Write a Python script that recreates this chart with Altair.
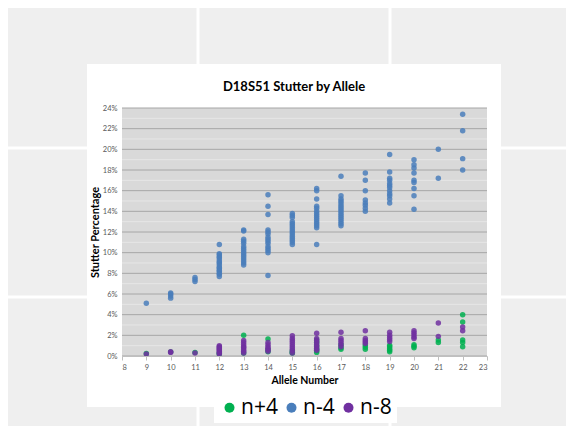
import altair as alt
import pandas as pd

# ---- data (percent values) ----
series_names = ["n+4", "n-4", "n-8"]
series_colors = ["#00b050", "#4a7ebb", "#7030a0"]

n_plus4 = {
    9: [0.25], 10: [0.4], 11: [0.35], 12: [0.3, 0.2], 13: [2.0, 0.3],
    14: [1.65, 0.4, 0.6], 15: [0.35, 0.5, 0.3],
    16: [1.55, 1.3, 1.0, 0.7, 0.5, 0.35], 17: [0.65, 0.8, 1.1],
    18: [1.05, 0.85, 0.65], 19: [1.05, 0.9, 0.7, 0.55, 0.4],
    20: [1.1, 0.95, 0.8], 21: [1.55, 1.3], 22: [4.0, 3.3, 1.55, 1.3, 0.9],
}
n_minus4 = {
    9: [5.1], 10: [5.6, 5.8, 6.0, 6.1], 11: [7.2, 7.4, 7.6],
    12: [10.8, 9.9, 9.8, 9.6, 9.5, 9.3, 9.1, 9.0, 8.8, 8.6, 8.5, 8.3, 8.2, 8.0, 7.9, 7.7],
    13: [12.2, 12.1, 11.3, 11.1, 10.9, 10.6, 10.4, 10.2, 10.0, 9.8, 9.6, 9.4, 9.2, 9.0, 8.8],
    14: [15.6, 14.5, 13.7, 12.2, 12.0, 11.8, 11.5, 11.3, 11.1, 10.9, 10.6, 10.4, 10.2, 10.0, 7.8],
    15: [13.8, 13.6, 13.4, 13.0, 12.8, 12.6, 12.4, 12.2, 12.0, 11.8, 11.6, 11.4, 11.2, 11.0, 10.8],
    16: [16.2, 16.0, 15.2, 14.5, 14.3, 14.0, 13.8, 13.6, 13.4, 13.2, 13.0, 12.8, 12.6, 12.4, 10.8],
    17: [17.4, 15.5, 15.2, 15.0, 14.8, 14.6, 14.4, 14.2, 14.0, 13.8, 13.6, 13.4, 13.2, 13.0, 12.8, 12.6],
    18: [17.7, 17.0, 16.0, 15.1, 14.8, 14.6, 14.3, 14.0],
    19: [19.5, 17.8, 17.2, 17.0, 16.7, 16.5, 16.3, 16.0, 15.7, 15.5, 15.2, 14.8],
    20: [19.0, 18.5, 18.2, 17.7, 17.0, 16.8, 16.2, 15.5, 14.2],
    21: [20.0, 17.2],
    22: [23.4, 21.8, 19.1, 18.0],
}
n_minus8 = {
    9: [0.2], 10: [0.42, 0.35], 11: [0.3],
    12: [1.0, 0.9, 0.8, 0.7, 0.6, 0.5, 0.4, 0.3, 0.2],
    13: [1.5, 1.3, 1.1, 0.9, 0.8, 0.6, 0.45, 0.3],
    14: [1.3, 1.1, 0.9, 0.75, 0.6, 0.45],
    15: [1.95, 1.7, 1.5, 1.3, 1.1, 0.9, 0.7, 0.5, 0.3],
    16: [2.2, 1.7, 1.5, 1.3, 1.1, 0.9, 0.7, 0.55],
    17: [2.3, 1.7, 1.5, 1.3, 1.1, 0.9],
    18: [2.45, 1.7, 1.5, 1.35, 1.2],
    19: [2.3, 2.0, 1.8, 1.6, 1.4],
    20: [2.45, 2.25, 2.05, 1.85, 1.7],
    21: [3.2, 1.9],
    22: [2.8, 2.45],
}
x_ticks = list(range(8, 24))
y_ticks = [0, 0.02, 0.04, 0.06, 0.08, 0.10, 0.12, 0.14, 0.16, 0.18, 0.20, 0.22, 0.24]
y_minor = [0.01, 0.03, 0.05, 0.07, 0.09, 0.11, 0.13, 0.15, 0.17, 0.19, 0.21, 0.23]
chart_title = "D18S51 Stutter by Allele"

rows = []
for name, d in zip(series_names, [n_plus4, n_minus4, n_minus8]):
    for allele, vals in d.items():
        for v in vals:
            rows.append({"allele": allele, "pct": v / 100.0, "series": name})
df = pd.DataFrame(rows)

grid_df = pd.DataFrame(
    [{"v": v, "major": True} for v in y_ticks] + [{"v": v, "major": False} for v in y_minor]
)

W, H = 365, 248
xscale = alt.Scale(domain=[8, 23], nice=False, zero=False)
yscale = alt.Scale(domain=[0, 0.24], nice=False)
one = alt.Data(values=[{"k": 1}])

x_axis = alt.Axis(values=x_ticks, format="d", grid=False, domain=True, domainColor="#bfbfbf",
                  ticks=True, tickColor="#bfbfbf", tickSize=4, labelColor="#595959",
                  labelFontSize=7.5, labelFont="Lato", labelPadding=3,
                  titleFont="Lato", titleFontSize=10.5, titleFontWeight="bold",
                  titleColor="#000000", titlePadding=5, zindex=1)
y_axis = alt.Axis(values=y_ticks, format=".0%", grid=False, domain=False, ticks=False,
                  labelColor="#595959", labelFontSize=7.5, labelFont="Lato", labelPadding=5,
                  titleFont="Lato", titleFontSize=11, titleFontWeight="bold",
                  titleColor="#000000", titlePadding=2, zindex=1)


def vrule(px):
    return alt.Chart(one).mark_rule(color="white", strokeWidth=3).encode(
        x=alt.value(px), y=alt.value(-100), y2=alt.value(318))


def hrule(py):
    return alt.Chart(one).mark_rule(color="white", strokeWidth=3).encode(
        y=alt.value(py), x=alt.value(-114), x2=alt.value(444))


card = alt.Chart(one).mark_rect(color="white").encode(
    x=alt.value(-35), x2=alt.value(379), y=alt.value(-44), y2=alt.value(299)
)
plot_bg = alt.Chart(one).mark_rect(color="#d9d9d9").encode(
    x=alt.value(0), x2=alt.value(W), y=alt.value(0), y2=alt.value(H)
)
title_txt = alt.Chart(one).mark_text(font="Lato", fontSize=13, fontWeight="bold", color="#000000",
                                     align="center", baseline="middle").encode(
    x=alt.value(172), y=alt.value(-21), text=alt.value(chart_title)
)
grid = alt.Chart(grid_df).mark_rule(strokeWidth=1).encode(
    y=alt.Y("v:Q", scale=yscale, title="Stutter Percentage", axis=y_axis),
    x=alt.value(0), x2=alt.value(W),
    color=alt.condition("datum.major", alt.value("#a6a6a6"), alt.value("#e6e6e6")),
)

points = alt.Chart(df).mark_circle(size=30, opacity=0.85).encode(
    x=alt.X("allele:Q", scale=xscale, title="Allele Number", axis=x_axis),
    y=alt.Y("pct:Q", scale=yscale, title="Stutter Percentage", axis=y_axis),
    color=alt.Color("series:N", scale=alt.Scale(domain=series_names, range=series_colors),
                    legend=alt.Legend(title=None, orient="none", legendX=92, legendY=284,
                                      direction="horizontal", fillColor="white", padding=5,
                                      symbolType="circle", symbolSize=100, symbolOpacity=1,
                                      symbolStrokeWidth=0, labelFont="Open Sans", labelFontSize=21,
                                      labelColor="#000000", labelOffset=1, columnPadding=3,
                                      labelLimit=0)),
    order=alt.Order("series:N"),
)

chart = alt.layer(vrule(76), vrule(268), hrule(40), hrule(189), card, plot_bg, title_txt,
                  grid, points).properties(
    width=W, height=H,
    autosize="none",
    padding={"left": 114, "top": 100, "right": 79, "bottom": 70},
    background="#efefef",
).configure_view(stroke=None, fill=None)

chart.save("out.html", embed_options={"renderer": "svg", "actions": False})
